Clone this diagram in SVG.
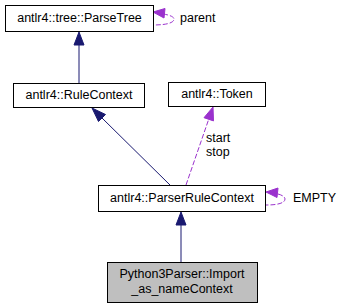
<svg xmlns="http://www.w3.org/2000/svg" width="345" height="308" viewBox="0 0 345 308">
<style>
.box{fill:#fff;stroke:#000;stroke-width:1}
.cur{fill:#bfbfbf;stroke:#000;stroke-width:1}
text{font-family:"Liberation Sans",Arial,sans-serif;font-size:12.5px;fill:#000}
.inh{fill:none;stroke:#191970;stroke-width:1}
.use{fill:none;stroke:#9a32cd;stroke-width:1;stroke-dasharray:5,2}
.ah{fill:#191970;stroke:#191970}
.ap{fill:#9a32cd;stroke:#9a32cd}
</style>
<rect width="345" height="308" fill="#fff"/>
<g id="edges">
  <!-- RuleContext -> ParseTree -->
  <path class="inh" d="M79,83 V45"/>
  <polygon class="ah" points="74,45 79,32 84,45"/>
  <!-- ParserRuleContext -> RuleContext -->
  <path class="inh" d="M170,185 L102,118"/>
  <polygon class="ah" points="98.5,121.5 92,108 105.5,114.5"/>
  <!-- Import_as_nameContext -> ParserRuleContext -->
  <path class="inh" d="M181,262 V225"/>
  <polygon class="ah" points="176,225 181,212 186,225"/>
  <!-- Token -> ParserRuleContext (start/stop) -->
  <path class="use" d="M186,185 L208.7,119.3"/>
  <polygon class="ap" points="204,117.7 213,107 213.5,120.9"/>
  <!-- ParseTree self loop (parent) -->
  <path class="use" d="M163,14 C170,15 174,17 174,19 C174,23 166,25 153,25"/>
  <polygon class="ap" points="165,8.5 153,12 164,18"/>
  <!-- ParserRuleContext self loop (EMPTY) -->
  <path class="use" d="M278,194 C282,195 285,197 285,199 C285,203 278,205 266,205"/>
  <polygon class="ap" points="278,188 266,192 277,197.5"/>
  <text x="180" y="22">parent</text>
  <text x="293" y="202">EMPTY</text>
  <text x="206" y="142">start</text>
  <text x="206" y="156">stop</text>
</g>
<g id="node_parsetree">
  <rect class="box" x="5.5" y="5.5" width="148" height="26"/>
  <text x="79.5" y="22" text-anchor="middle">antlr4::tree::ParseTree</text>
</g>
<g id="node_rulecontext">
  <rect class="box" x="13.5" y="83.5" width="131" height="24"/>
  <text x="79" y="99" text-anchor="middle">antlr4::RuleContext</text>
</g>
<g id="node_token">
  <rect class="box" x="168.5" y="82.5" width="97" height="24"/>
  <text x="217" y="98" text-anchor="middle">antlr4::Token</text>
</g>
<g id="node_parserrulecontext">
  <rect class="box" x="98.5" y="185.5" width="167" height="26"/>
  <text x="182" y="202" text-anchor="middle">antlr4::ParserRuleContext</text>
</g>
<g id="node_import_as_name">
  <rect class="cur" x="107.5" y="262.5" width="150" height="40"/>
  <text x="182" y="278" text-anchor="middle">Python3Parser::Import</text>
  <text x="182" y="293" text-anchor="middle">_as_nameContext</text>
</g>
</svg>
